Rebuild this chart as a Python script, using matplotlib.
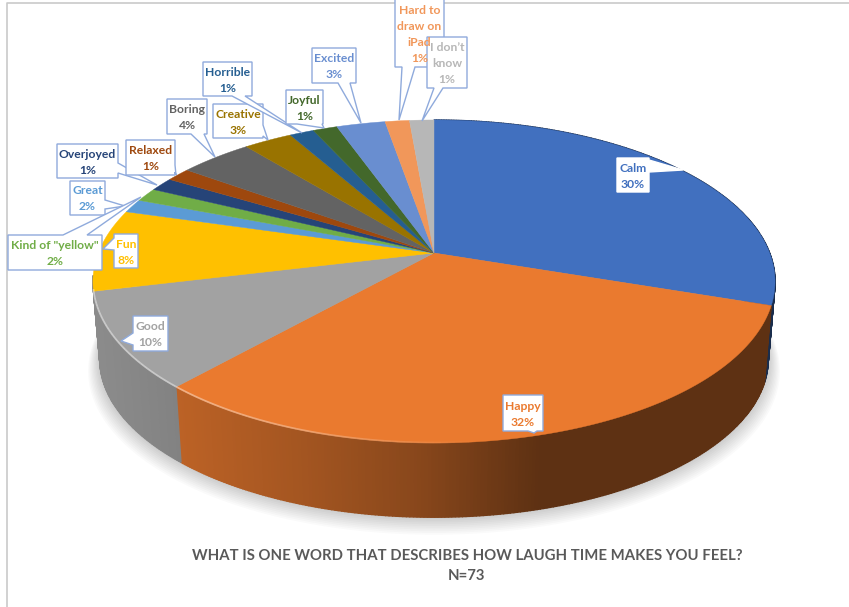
import numpy as np
import matplotlib
matplotlib.use("Agg")
import matplotlib.pyplot as plt
from matplotlib.patches import Polygon

plt.rcParams['font.family'] = ['Lato', 'DejaVu Sans']

# Survey answers, clockwise from 12 o'clock
categories = ['Calm', 'Happy', 'Good', 'Fun', 'Great', 'Kind of "yellow"', 'Overjoyed', 'Relaxed',
              'Boring', 'Creative', 'Horrible', 'Joyful', 'Excited', 'Hard to draw on iPad', "I don't know"]
counts = [22, 23, 7, 6, 1, 1, 1, 1, 3, 2, 1, 1, 2, 1, 1]
pct_labels = ['30%', '32%', '10%', '8%', '2%', '2%', '1%', '1%', '4%', '3%', '1%', '1%', '3%', '1%', '1%']
colors = ['#4170BF', '#EA7A2F', '#A2A2A2', '#FFC000', '#5B9BD5', '#70AD47', '#264478', '#9E480E',
          '#636363', '#997300', '#255E91', '#43682B', '#698ED0', '#F1975A', '#B7B7B7']

title = 'WHAT IS ONE WORD THAT DESCRIBES HOW LAUGH TIME MAKES YOU FEEL?'
subtitle = 'N=73'

# Label layout: wrapped text, box (x0, y0, x1, y1), pointer side, base, tip
callouts = {
    'Calm': (['Calm'], (617, 158, 649, 192), 'right', (160, 172), (683, 170)),
    'Happy': (['Happy'], (503, 395, 543, 431), 'bottom', (528, 537), (534, 433)),
    'Good': (['Good'], (133, 316, 168, 351), 'left', (333, 345), (121, 341)),
    'Kind of "yellow"': (['Kind of "yellow"'], (8, 235, 102, 270), 'top', (63, 87), (141, 197)),
    'Fun': (['Fun'], (114, 234, 138, 268), 'left', (238, 250), (103, 249)),
    'Great': (['Great'], (70, 181, 105, 215), 'right', (200, 209), (125, 206)),
    'Overjoyed': (['Overjoyed'], (57, 144, 118, 178), 'right', (163, 173), (157, 185)),
    'Relaxed': (['Relaxed'], (126, 140, 175, 175), 'right', (165, 172), (176, 175)),
    'Boring': (['Boring'], (167, 99, 207, 134), 'bottom', (191, 204), (215, 157)),
    'Horrible': (['Horrible'], (203, 62, 252, 96), 'bottom', (232, 245), (302, 133)),
    'Creative': (['Creative'], (213, 104, 263, 138), 'right', (125, 136), (268, 140)),
    'Joyful': (['Joyful'], (286, 90, 323, 124), 'bottom', (297, 322), (324, 128)),
    'Excited': (['Excited'], (312, 48, 356, 83), 'bottom', (338, 350), (361, 123)),
    'Hard to draw on iPad': (['Hard to', 'draw on', 'iPad'], (395, -1, 444, 67), 'bottom', (402, 415), (399, 120)),
    "I don't know": (['I don’t', 'know'], (427, 37, 467, 88), 'bottom', (434, 443), (422, 121)),
}

# Perspective of the disc: centre, half axes, foreshortening
cx, cy = 434, 253
A, B, k = 335.7, 156.5, 0.1765
cy_bottom, bottom_scale = 331, 0.98
left_silhouette = np.radians(262)  # side wall is not visible past this angle


def project(t, centre_y=cy, scale=1.0):
    # t is the clockwise angle from 12 o'clock, in radians
    u, v = np.sin(t), np.cos(t)
    w = 1 + k * v
    return cx + scale * A * u / w, centre_y - scale * B * v / w


def shade(x):
    # side wall gets darker to the right
    return np.interp(x, [95, 180, 300, 420, 540, 800], [0.86, 0.80, 0.70, 0.58, 0.40, 0.40])


def darker(color, f):
    return tuple(c * f for c in matplotlib.colors.to_rgb(color))


def callout_verts(box, side, base, tip):
    x0, y0, x1, y1 = box
    b0, b1 = base
    if side == 'bottom':
        return [(x0, y0), (x1, y0), (x1, y1), (b1, y1), tip, (b0, y1), (x0, y1)]
    if side == 'right':
        return [(x0, y0), (x1, y0), (x1, b0), tip, (x1, b1), (x1, y1), (x0, y1)]
    if side == 'left':
        return [(x0, y0), (x1, y0), (x1, y1), (x0, y1), (x0, b1), tip, (x0, b0)]
    return [(x0, y0), (b0, y0), tip, (b1, y0), (x1, y0), (x1, y1), (x0, y1)]


fig = plt.figure(figsize=(8.49, 6.07), dpi=100)
ax = fig.add_axes([0, 0, 1, 1])
ax.set_xlim(0, 849)
ax.set_ylim(607, 0)
ax.axis('off')

# frame of the screenshot
ax.plot([7.5, 7.5, 849], [607, 3, 3], color='#C9C9C9', lw=1.2, zorder=1)

circle = np.linspace(0, 2 * np.pi, 361)

# soft shadow under the disc
for i in range(10, 0, -1):
    sx, sy = project(circle, cy_bottom + i * 1.1, bottom_scale * (1 + i * 0.0035))
    ax.fill(sx, sy, color='black', alpha=0.018, lw=0, zorder=2)

fractions = np.array(counts) / sum(counts)
edges = np.concatenate([[0], np.cumsum(fractions)]) * 2 * np.pi

# side wall, drawn first so the top face hides the back of it
# only the first three slices reach the visible front
for i, color in enumerate(colors[:3]):
    end = left_silhouette if i == 2 else edges[i + 1]
    n = max(int(np.degrees(end - edges[i]) * 2), 1) + 1
    ts = np.linspace(edges[i], end, n + 1)
    for t0, t1 in zip(ts[:-1], ts[1:]):
        x0, y0 = project(t0)
        x1, y1 = project(t1)
        x2, y2 = project(t1, cy_bottom, bottom_scale)
        x3, y3 = project(t0, cy_bottom, bottom_scale)
        c = darker(color, shade((x0 + x1) / 2))
        ax.fill([x0, x1, x2, x3], [y0, y1, y2, y3], color=c, lw=1.0, zorder=3)

# top face
for i, color in enumerate(colors):
    n = max(int(np.degrees(edges[i + 1] - edges[i])), 2) + 1
    ts = np.linspace(edges[i], edges[i + 1], n + 1)
    x, y = project(ts)
    ax.fill(np.r_[cx, x], np.r_[cy, y], color=color, lw=0.3, zorder=4)

# bevel highlight along the front rim, fades out to the right
rim = np.radians(np.arange(172, 258, 1.0))
for t0, t1 in zip(rim[:-1], rim[1:]):
    x, y = project(np.array([t0, t1]))
    strength = np.interp(x[0], [95, 180, 300, 480], [0.45, 0.42, 0.32, 0.0])
    ax.plot(x, y - 0.5, color='white', alpha=strength, lw=1.3, zorder=5, solid_capstyle='butt')

# callouts
for name, pct, color in zip(categories, pct_labels, colors):
    lines, box, side, base, tip = callouts[name]
    edge = 'white' if name == 'Calm' else '#8FAADC'
    ax.add_patch(Polygon(callout_verts(box, side, base, tip), closed=True, facecolor='white',
                         edgecolor=edge, lw=1.0, zorder=6 + len(ax.patches) * 0.01))
    rows = lines + [pct]
    mid = (box[1] + box[3]) / 2 + 1
    for j, row in enumerate(rows):
        ax.text((box[0] + box[2]) / 2, mid + (j - (len(rows) - 1) / 2) * 16, row, color=color,
                fontsize=8.7, fontweight='bold', ha='center', va='center',
                zorder=6 + len(ax.patches) * 0.01 + 0.001)

ax.text(467, 555.5, title, color='#595959', fontsize=10.75, fontweight='bold', ha='center', va='center', zorder=6)
ax.text(467, 576, subtitle, color='#595959', fontsize=10.75, fontweight='bold', ha='center', va='center', zorder=6)

fig.savefig('out.png', dpi=100)
